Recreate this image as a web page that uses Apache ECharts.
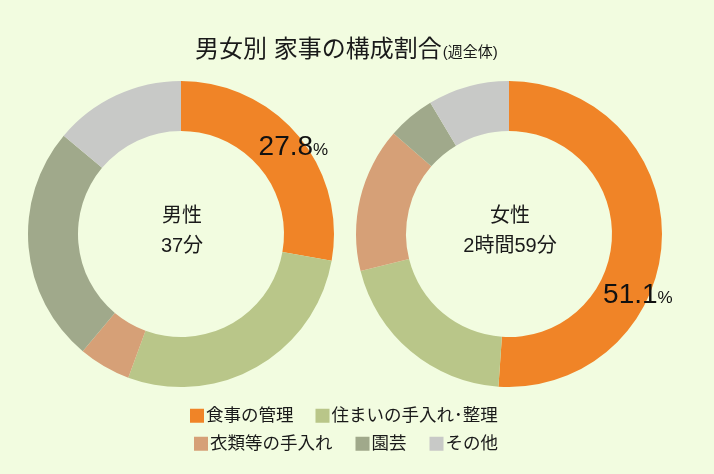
<!DOCTYPE html>
<html>
<head>
<meta charset="utf-8">
<script src="https://cdn.jsdelivr.net/npm/echarts@6/dist/echarts.min.js"></script>
<style>
  html, body { margin: 0; padding: 0; background: #f2fce0; }
  #chart { width: 714px; height: 474px; }
</style>
</head>
<body>
<div id="chart"></div>
<script>
// 家事の種類と色
var categories = ['食事の管理', '住まいの手入れ･整理', '衣類等の手入れ', '園芸', 'その他'];
var colors = ['#f08427', '#b9c689', '#d6a077', '#a0a98b', '#c8c9c7'];

// 構成割合(%)
var maleShare = [27.8, 27.8, 5.5, 25.0, 13.9];
var femaleShare = [51.1, 20.0, 15.3, 5.0, 8.6];

// 中央の表示
var maleCenter = ['男性', '37分'];
var femaleCenter = ['女性', '2時間59分'];

var FONT = '"Liberation Sans", "Noto Sans CJK JP", sans-serif';

function toData(values) {
    return values.map(function (v, i) {
        return {
            name: categories[i],
            value: v,
            itemStyle: { color: colors[i] },
            // 食事の管理だけラベル表示
            label: { show: i === 0 }
        };
    });
}

function donut(values, cx, dx, dy) {
    return {
        type: 'pie',
        center: [cx, 234],
        radius: [103, 153],
        startAngle: 90,
        clockwise: true,
        silent: true,
        avoidLabelOverlap: false,
        itemStyle: { borderWidth: 0 },
        label: {
            position: 'inside',
            formatter: function (p) {
                return '{n|' + p.value.toFixed(1) + '}{p|%}';
            },
            rich: {
                n: { fontSize: 28, color: '#111', fontFamily: FONT },
                p: { fontSize: 17, color: '#111', fontFamily: FONT, padding: [6, 0, 0, 0] }
            }
        },
        labelLine: { show: false },
        labelLayout: { dx: dx, dy: dy },
        data: toData(values)
    };
}

function centerText(lines, x) {
    return {
        type: 'text',
        x: x,
        y: 231,
        style: {
            text: lines.join('\n'),
            align: 'center',
            verticalAlign: 'middle',
            fontSize: 20,
            lineHeight: 30,
            fill: '#1a1a1a',
            fontFamily: FONT
        }
    };
}

function legendRow(names, left, top, gap) {
    return {
        data: names,
        left: left,
        top: top,
        padding: 0,
        icon: 'rect',
        itemWidth: 14,
        itemHeight: 14,
        itemGap: gap,
        selectedMode: false,
        textStyle: { fontSize: 17.5, color: '#1a1a1a', fontFamily: FONT, padding: [0, 0, 0, -3] }
    };
}

var myChart = echarts.init(document.getElementById('chart'));

const option = {
    backgroundColor: '#f2fce0',
    animation: false,
    title: {
        text: '男女別 家事の構成割合{s|(週全体)}',
        left: 190,
        top: 33,
        textStyle: {
            fontSize: 24,
            fontWeight: 'normal',
            color: '#1a1a1a',
            fontFamily: FONT,
            rich: {
                s: { fontSize: 15, color: '#1a1a1a', fontFamily: FONT, padding: [5, 0, 0, 1] }
            }
        }
    },
    graphic: [
        centerText(maleCenter, 182),
        centerText(femaleCenter, 510)
    ],
    legend: [
        legendRow(categories.slice(0, 2), 190, 407, 22),
        legendRow(categories.slice(2), 194, 435, 23)
    ],
    series: [
        donut(maleShare, 181, 12, -3),
        donut(femaleShare, 509, -2, 57)
    ]
};

myChart.setOption(option);
</script>
</body>
</html>
